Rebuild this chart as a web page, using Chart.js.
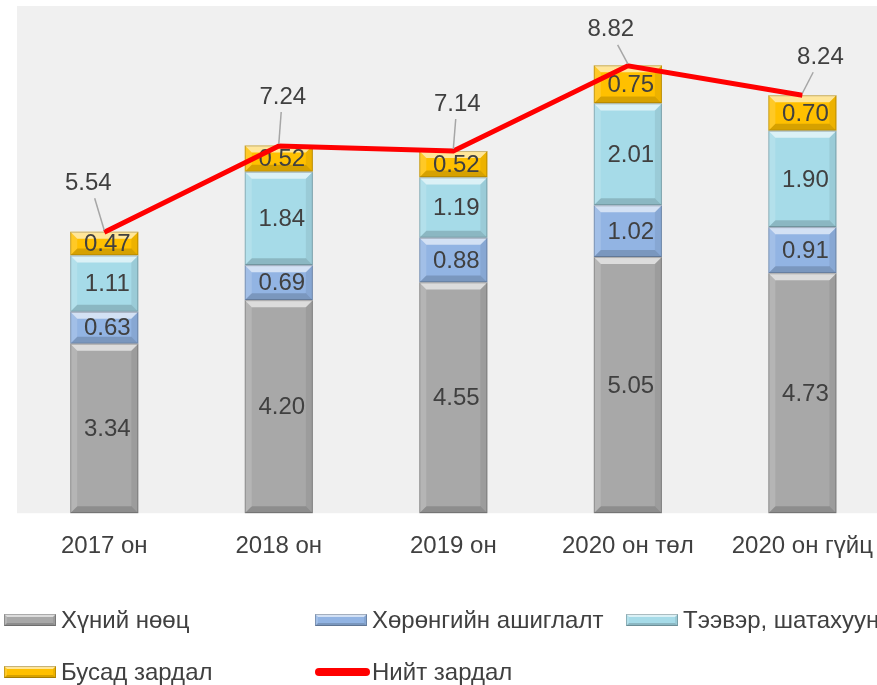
<!DOCTYPE html>
<html>
<head>
<meta charset="utf-8">
<script src="https://cdn.jsdelivr.net/npm/chart.js@4/dist/chart.umd.min.js"></script>
<style>
  html, body { margin: 0; padding: 0; background: #fff; overflow: hidden; }
  #wrap { width: 892px; height: 685px; }
</style>
</head>
<body>
<div id="wrap"><canvas id="costChart" width="892" height="685"></canvas></div>
<script>
var categories = ['2017 он', '2018 он', '2019 он', '2020 он төл', '2020 он гүйц'];
var humanRes = [3.34, 4.20, 4.55, 5.05, 4.73];
var assetUse = [0.63, 0.69, 0.88, 1.02, 0.91];
var transport = [1.11, 1.84, 1.19, 2.01, 1.90];
var otherCost = [0.47, 0.52, 0.52, 0.75, 0.70];
var totalCost = [5.54, 7.24, 7.14, 8.82, 8.24];

// label offsets for the totals (style only)
var totalLabelOffsets = [[-16, -49], [4, -49], [4, -47], [-17, -36], [18, -38]];

var FONT = "'Liberation Sans', Arial, sans-serif";
var TEXT = '#404040';

function bevel(ctx, l, t, r, b, size) {
    var s = Math.min(size, (b - t) / 2, (r - l) / 2);
    ctx.save();
    ctx.fillStyle = 'rgba(255,255,255,0.6)';
    ctx.beginPath();
    ctx.moveTo(l, t); ctx.lineTo(r, t); ctx.lineTo(r - s, t + s); ctx.lineTo(l + s, t + s);
    ctx.closePath(); ctx.fill();
    ctx.fillStyle = 'rgba(0,0,0,0.16)';
    ctx.beginPath();
    ctx.moveTo(l, b); ctx.lineTo(r, b); ctx.lineTo(r - s, b - s); ctx.lineTo(l + s, b - s);
    ctx.closePath(); ctx.fill();
    ctx.fillStyle = 'rgba(255,255,255,0.15)';
    ctx.beginPath();
    ctx.moveTo(l, t); ctx.lineTo(l + s, t + s); ctx.lineTo(l + s, b - s); ctx.lineTo(l, b);
    ctx.closePath(); ctx.fill();
    ctx.fillStyle = 'rgba(0,0,0,0.07)';
    ctx.beginPath();
    ctx.moveTo(r, t); ctx.lineTo(r - s, t + s); ctx.lineTo(r - s, b - s); ctx.lineTo(r, b);
    ctx.closePath(); ctx.fill();
    ctx.strokeStyle = 'rgba(0,0,0,0.22)';
    ctx.lineWidth = 1;
    ctx.strokeRect(l + 0.5, t + 0.5, r - l - 1, b - t - 1);
    ctx.restore();
}

var plotBg = {
    id: 'plotBg',
    beforeDraw: function (chart) {
        var a = chart.chartArea, ctx = chart.ctx;
        ctx.save();
        ctx.fillStyle = '#F0F0F0';
        ctx.fillRect(a.left, a.top, a.right - a.left, a.bottom - a.top);
        ctx.restore();
    }
};

var barBevel = {
    id: 'barBevel',
    afterDatasetDraw: function (chart, args) {
        var meta = args.meta;
        if (meta.type !== 'bar') return;
        var ctx = chart.ctx;
        var ds = chart.data.datasets[args.index];
        meta.data.forEach(function (el, i) {
            var p = el.getProps(['x', 'y', 'base', 'width'], true);
            var l = p.x - p.width / 2, r = p.x + p.width / 2;
            var t = Math.min(p.y, p.base), b = Math.max(p.y, p.base);
            bevel(ctx, l, t, r, b, 7);
            ctx.save();
            ctx.font = '24px ' + FONT;
            ctx.fillStyle = TEXT;
            ctx.textAlign = 'center';
            ctx.textBaseline = 'middle';
            ctx.fillText(ds.data[i].toFixed(2), p.x + 3, (t + b) / 2 + 1);
            ctx.restore();
        });
    }
};

var totals = {
    id: 'totals',
    afterDraw: function (chart) {
        var ctx = chart.ctx;
        var meta = chart.getDatasetMeta(4);
        meta.data.forEach(function (pt, i) {
            var off = totalLabelOffsets[i];
            var lx = pt.x + off[0], ly = pt.y + off[1];
            ctx.save();
            ctx.strokeStyle = '#A6A6A6';
            ctx.lineWidth = 1.5;
            ctx.beginPath();
            ctx.moveTo(pt.x + (lx - pt.x) * 0.6, ly + 15);
            ctx.lineTo(pt.x, pt.y - 2);
            ctx.stroke();
            ctx.font = '24px ' + FONT;
            ctx.fillStyle = TEXT;
            ctx.textAlign = 'center';
            ctx.textBaseline = 'middle';
            ctx.fillText(totalCost[i].toFixed(2), lx, ly);
            ctx.restore();
        });
    }
};

var gridLegend = {
    id: 'gridLegend',
    afterDraw: function (chart) {
        var ctx = chart.ctx;
        var cols = [4, 315, 626];
        var rows = [620, 672];
        chart.data.datasets.forEach(function (ds, i) {
            var x = cols[i % 3], y = rows[Math.floor(i / 3)];
            ctx.save();
            if (ds.type === 'line') {
                ctx.strokeStyle = ds.borderColor;
                ctx.lineWidth = 8;
                ctx.lineCap = 'round';
                ctx.beginPath();
                ctx.moveTo(x + 4, y); ctx.lineTo(x + 51, y);
                ctx.stroke();
            } else {
                ctx.fillStyle = ds.backgroundColor;
                ctx.fillRect(x, y - 6, 52, 12);
                bevel(ctx, x, y - 6, x + 52, y + 6, 3);
            }
            ctx.font = '24px ' + FONT;
            ctx.fillStyle = TEXT;
            ctx.textAlign = 'left';
            ctx.textBaseline = 'middle';
            ctx.fillText(ds.label, x + 57, y + 1);
            ctx.restore();
        });
    }
};

var ctx = document.getElementById('costChart');
var myChart = new Chart(ctx, {
    plugins: [plotBg, barBevel, totals, gridLegend],
    data: {
        labels: categories,
        datasets: [
            { type: 'bar', label: 'Хүний нөөц', data: humanRes, backgroundColor: '#A8A8A8', order: 1 },
            { type: 'bar', label: 'Хөрөнгийн ашиглалт', data: assetUse, backgroundColor: '#92B4E3', order: 1 },
            { type: 'bar', label: 'Тээвэр, шатахуун', data: transport, backgroundColor: '#A6DBE8', order: 1 },
            { type: 'bar', label: 'Бусад зардал', data: otherCost, backgroundColor: '#FFC000', order: 1 },
            {
                type: 'line', label: 'Нийт зардал', data: totalCost, stack: 'total',
                borderColor: '#FF0000', borderWidth: 5, pointRadius: 0, tension: 0, order: 0,
            },
        ]
    },
    options: {
        responsive: false,
        animation: false,
        layout: { padding: { left: 17, top: 6, right: 0, bottom: 105 } },
        plugins: {
            legend: { display: false },
            tooltip: { enabled: false },
        },
        datasets: {
            bar: {
                barPercentage: 0.39,
                categoryPercentage: 1,
                borderWidth: 0,
            },
        },
        scales: {
            x: {
                stacked: true,
                grid: { display: false, drawTicks: false },
                border: { display: false },
                ticks: {
                    color: TEXT,
                    font: { family: FONT, size: 24 },
                    padding: 19,
                    maxRotation: 0,
                    autoSkip: false,
                },
            },
            y: {
                stacked: true,
                display: false,
                min: 0,
                max: 10,
            },
        },
    },
});
</script>
</body>
</html>
